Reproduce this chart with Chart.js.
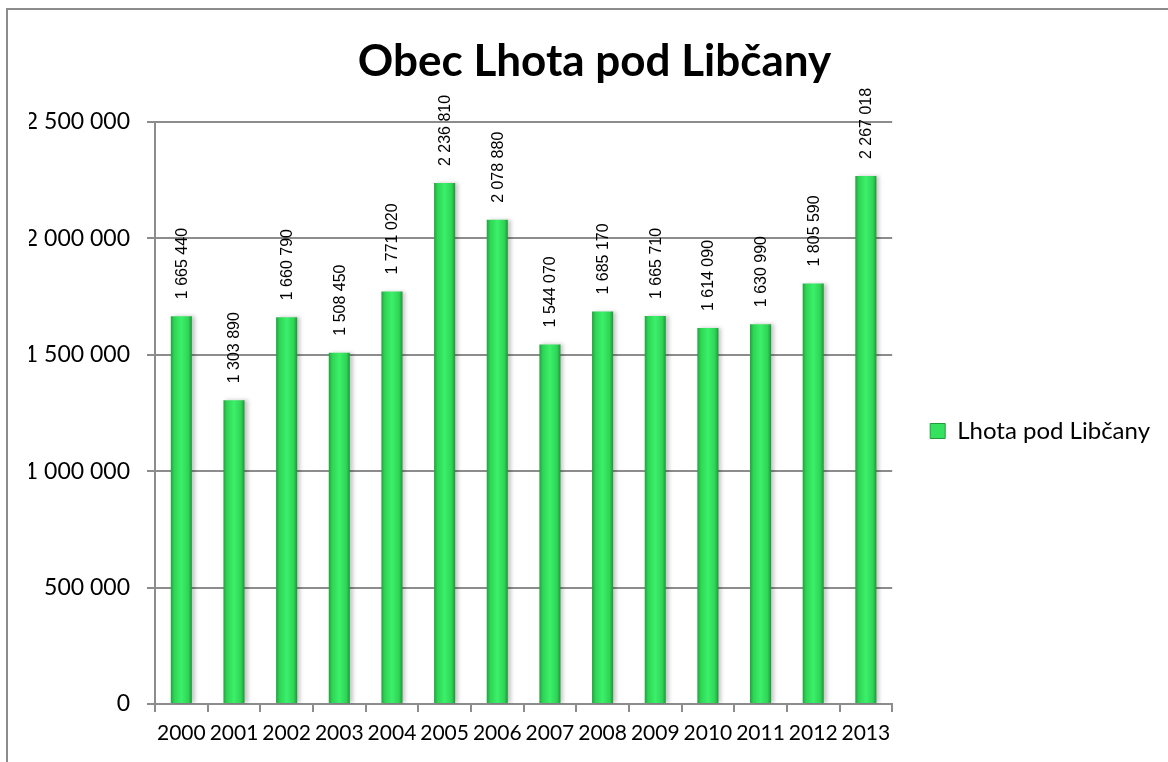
<!DOCTYPE html>
<html>
<head>
<meta charset="utf-8">
<script src="https://cdn.jsdelivr.net/npm/chart.js@4/dist/chart.umd.min.js"></script>
<style>
  html, body { margin: 0; padding: 0; background: #fff; overflow: hidden; }
  #wrap { width: 1168px; height: 762px; position: relative; }
</style>
</head>
<body>
<div id="wrap"><canvas id="myChart"></canvas></div>
<script>
const years = ["2000", "2001", "2002", "2003", "2004", "2005", "2006",
  "2007", "2008", "2009", "2010", "2011", "2012", "2013"];
const amounts = [1665440, 1303890, 1660790, 1508450, 1771020, 2236810, 2078880,
  1544070, 1685170, 1665710, 1614090, 1630990, 1805590, 2267018];
const seriesName = "Lhota pod Libčany";
const chartTitle = "Obec Lhota pod Libčany";
const yMin = 0;
const yMax = 2500000;
const yStep = 500000;

const gridColor = "#8c8c8c";
const fontName = "Lato, 'Open Sans', sans-serif";

// 1 665 440 style
const fmt = (v) => String(v).replace(/\B(?=(\d{3})+(?!\d))/g, " ");

const barFill = (ctx) => {
  const chart = ctx.chart;
  const xs = chart.scales && chart.scales.x;
  if (!xs || ctx.dataIndex === undefined) return "#33e35e";
  const cx = xs.getPixelForValue(ctx.dataIndex);
  const half = 11;
  const g = chart.ctx.createLinearGradient(cx - half, 0, cx + half, 0);
  g.addColorStop(0, "#1f9b3c");
  g.addColorStop(0.18, "#2fd555");
  g.addColorStop(0.5, "#3bf06a");
  g.addColorStop(0.82, "#2fd555");
  g.addColorStop(1, "#1c8d36");
  return g;
};

const frame = {
  id: "frame",
  beforeDraw(chart) {
    const c = chart.ctx;
    c.save();
    c.strokeStyle = "#8c8c8c";
    c.lineWidth = 2;
    c.strokeRect(7, 9, 1300, 900);
    c.restore();
  }
};

const barShadow = {
  id: "barShadow",
  beforeDatasetDraw(chart) {
    const c = chart.ctx;
    c.save();
    c.shadowColor = "rgba(0,0,0,0.22)";
    c.shadowBlur = 4;
    c.shadowOffsetX = 3;
    c.shadowOffsetY = 0;
  },
  afterDatasetDraw(chart) {
    chart.ctx.restore();
  }
};

const valueLabels = {
  id: "valueLabels",
  afterDatasetsDraw(chart) {
    const c = chart.ctx;
    const meta = chart.getDatasetMeta(0);
    c.save();
    c.fillStyle = "#000";
    c.font = "16px 'Liberation Sans', Arial, sans-serif";
    c.textAlign = "left";
    c.textBaseline = "middle";
    meta.data.forEach((bar, i) => {
      c.save();
      c.translate(bar.x + 1, bar.y - 17);
      c.rotate(-Math.PI / 2);
      c.fillText(fmt(chart.data.datasets[0].data[i]), 0, 0);
      c.restore();
    });
    c.restore();
  }
};

new Chart("myChart", {
  type: "bar",
  data: {
    labels: years,
    datasets: [{
      label: seriesName,
      data: amounts,
      backgroundColor: barFill,
      borderWidth: 0,
      barPercentage: 0.4,
      categoryPercentage: 1.0
    }]
  },
  options: {
    responsive: true,
    maintainAspectRatio: false,
    animation: false,
    layout: { padding: { left: 29, right: 8, top: 0, bottom: 0 } },
    plugins: {
      title: {
        display: true,
        text: chartTitle,
        color: "#000",
        font: { family: fontName, size: 44, weight: "bold" },
        padding: { top: 35, bottom: 34 }
      },
      legend: {
        position: "right",
        title: {
          display: true,
          text: "",
          font: { size: 10 },
          padding: { top: 0, bottom: 88 }
        },
        labels: {
          color: "#000",
          font: { family: fontName, size: 24 },
          boxWidth: 15,
          boxHeight: 15,
          padding: 38,
          generateLabels: () => [{
            text: seriesName,
            fillStyle: "#35e25f",
            strokeStyle: "#1f9b3c",
            fontColor: "#000",
            lineWidth: 1,
            datasetIndex: 0
          }]
        }
      },
      tooltip: { enabled: false }
    },
    scales: {
      x: {
        afterFit: (scale) => { scale.height = 58; },
        grid: {
          offset: true,
          drawOnChartArea: false,
          drawTicks: true,
          tickLength: 8,
          color: gridColor,
          lineWidth: 2
        },
        border: { display: true, color: gridColor, width: 2 },
        ticks: {
          color: "#000",
          font: { family: fontName, size: 21 },
          padding: 9,
          maxRotation: 0,
          autoSkip: false
        }
      },
      y: {
        min: yMin,
        max: yMax,
        afterFit: (scale) => { scale.width = 126; },
        grid: {
          color: gridColor,
          lineWidth: 2,
          tickLength: 8
        },
        border: { display: true, color: gridColor, width: 2 },
        ticks: {
          stepSize: yStep,
          color: "#000",
          font: { family: fontName, size: 23 },
          padding: 17,
          callback: (v) => fmt(v)
        }
      }
    }
  },
  plugins: [frame, barShadow, valueLabels]
});
</script>
</body>
</html>
